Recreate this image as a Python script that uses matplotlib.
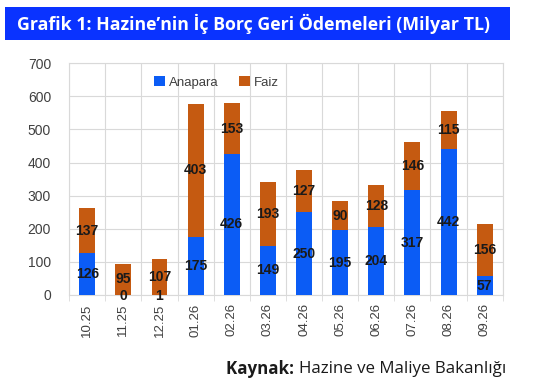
import numpy as np
import matplotlib
matplotlib.use('Agg')
from matplotlib import pyplot as plt
from matplotlib.patches import Rectangle

months = ['10.25', '11.25', '12.25', '01.26', '02.26', '03.26',
          '04.26', '05.26', '06.26', '07.26', '08.26', '09.26']
anapara = [126, 0, 1, 175, 426, 149, 250, 195, 204, 317, 442, 57]
faiz = [137, 95, 107, 403, 153, 193, 127, 90, 128, 146, 115, 156]
y_ticks = [0, 100, 200, 300, 400, 500, 600, 700]

blue = '#0B5CF5'
orange = '#C55A11'
grid_c = '#D9D9D9'

plt.rcParams['font.family'] = ['Liberation Sans', 'DejaVu Sans']

fig = plt.figure(figsize=(5.36, 3.9), dpi=100)

# baslik bandi
fig.patches.append(Rectangle((0.0093, 0.897), 0.942, 0.085, transform=fig.transFigure,
                             facecolor='#0A33FF', edgecolor='none', zorder=0))
fig.text(0.032, 0.939, 'Grafik 1: Hazine’nin İç Borç Geri Ödemeleri (Milyar TL)',
         color='white', fontsize=12.8, fontweight='bold', va='center', ha='left',
         family=['Open Sans', 'DejaVu Sans'])

ax = fig.add_axes([0.129, 0.2436, 0.809, 0.5944])
x = np.arange(len(months))
ax.bar(x, anapara, width=0.44, color=blue, label='Anapara', zorder=3)
ax.bar(x, faiz, width=0.44, bottom=anapara, color=orange, label='Faiz', zorder=3)

for i in range(len(months)):
    a = anapara[i]
    f = faiz[i]
    ya = a / 2 if a > 20 else -3
    ax.text(x[i], ya, str(a), ha='center', va='center', fontsize=10,
            fontweight='bold', color='#1a1a1a', zorder=4)
    ax.text(x[i], a + f / 2, str(f), ha='center', va='center', fontsize=10,
            fontweight='bold', color='#1a1a1a', zorder=4)

ax.set_xlim(-0.5, len(months) - 0.5)
ax.set_ylim(0, 700)
ax.set_yticks(y_ticks)
ax.set_xticks(x)
ax.set_xticklabels(months, rotation=90, fontsize=9.5, color='#404040')
ax.tick_params(axis='y', length=0, pad=13, labelsize=10, labelcolor='#404040')
ax.tick_params(axis='x', length=0, pad=6)
ax.set_xticks(np.arange(-0.5, len(months), 1), minor=True)
ax.tick_params(axis='x', which='minor', length=4, color=grid_c)
ax.grid(True, which='major', axis='y', color=grid_c, lw=0.8, zorder=0)
ax.grid(True, which='minor', axis='x', color=grid_c, lw=0.8, zorder=0)
for s in ax.spines.values():
    s.set_color(grid_c)
    s.set_linewidth(0.8)

ax.legend(loc='upper center', bbox_to_anchor=(0.34, 0.995), ncol=2, frameon=False,
          fontsize=9.5, handlelength=0.8, handleheight=0.8, columnspacing=1.6,
          handletextpad=0.3, labelcolor='#404040')

src = fig.text(0.944, 0.055, 'Hazine ve Maliye Bakanlığı', fontsize=12.2, color='#1a1a1a',
               ha='right', va='center', family=['Open Sans', 'DejaVu Sans'])
ax.annotate('Kaynak: ', xy=(0, 0.5), xycoords=src, ha='right', va='center',
            fontsize=12.2, fontweight='bold', color='#1a1a1a',
            family=['Open Sans', 'DejaVu Sans'], annotation_clip=False)

fig.savefig('out.png', dpi=100)
